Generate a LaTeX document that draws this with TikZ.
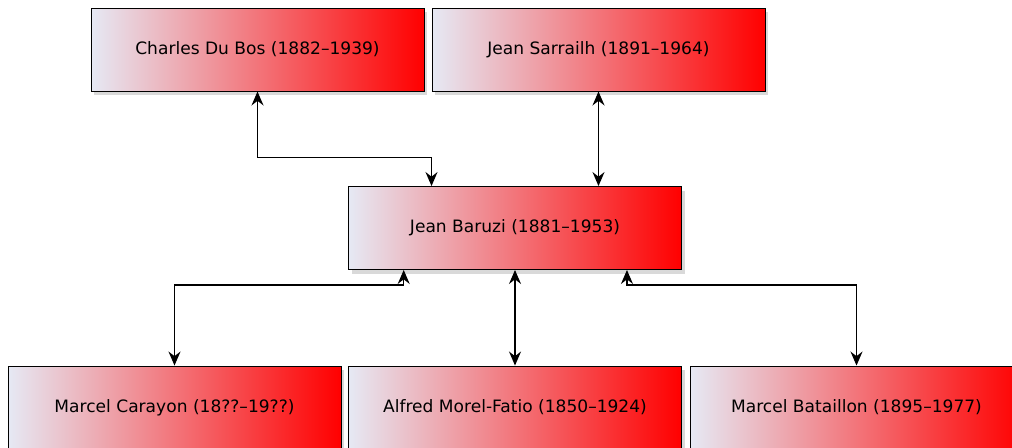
\documentclass[tikz,border=0pt]{standalone}
\usepackage{fontspec}
\setmainfont{DejaVu Sans}
\usetikzlibrary{arrows.meta,shadows,calc}
\definecolor{startc}{HTML}{E6E9F4}
\definecolor{endc}{HTML}{FF0000}
\tikzset{
  person/.style={rectangle, draw=black, line width=0.7pt, inner sep=0pt,
    minimum width=249.75pt, minimum height=62.25pt,
    left color=startc, right color=endc,
    drop shadow={opacity=0.3, shadow xshift=2.5pt, shadow yshift=-3pt},
    font=\fontsize{12.8pt}{15pt}\selectfont, text=black},
  tip/.style={Stealth[length=10.5pt,width=9pt,inset=3.5pt]},
  link/.style={line width=1pt, {Stealth[length=10.5pt,width=9pt,inset=3.5pt]}-{Stealth[length=10.5pt,width=9pt,inset=3.5pt]}}
}
\begin{document}
\begin{tikzpicture}[x=0.75pt,y=-0.75pt]
\useasboundingbox (0,0) rectangle (1012,447);
\node[person] (dubos) at (257.5,49.5) {Charles Du Bos (1882–1939)};
\node[person] (sarrailh) at (598.5,49.5) {Jean Sarrailh (1891–1964)};
\node[person] (baruzi) at (515,228) {Jean Baruzi (1881–1953)};
\node[person] (carayon) at (174.5,407.5) {Marcel Carayon (18??–19??)};
\node[person] (morel) at (515,407.5) {Alfred Morel-Fatio (1850–1924)};
\node[person] (bataillon) at (856.5,407.5) {Marcel Bataillon (1895–1977)};
\coordinate (bnA) at ($(baruzi.north west)!0.25!(baruzi.north east)$);
\coordinate (bsA) at ($(baruzi.south west)!0.1667!(baruzi.south east)$);
\coordinate (bsB) at ($(baruzi.south west)!0.8353!(baruzi.south east)$);
\draw[link] (dubos.south) -- ++(0,66) -| (bnA);
\draw[link] (sarrailh.south) -- (sarrailh.south |- baruzi.north);
\draw[link] (bsA) -- ++(0,15) -| (carayon.north);
\draw[link] (baruzi.south) -- (morel.north);
\draw[link] (bsB) -- ++(0,15) -| (bataillon.north);
\end{tikzpicture}
\end{document}
